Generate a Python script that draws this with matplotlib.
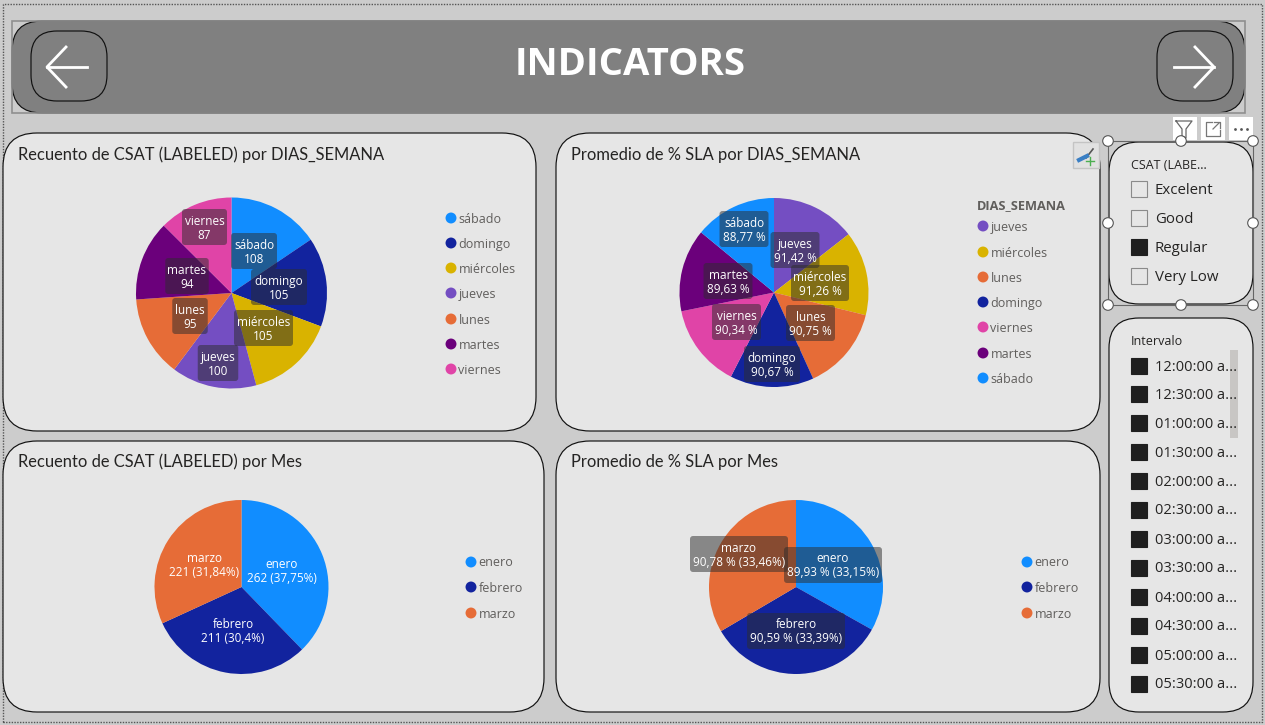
import matplotlib
matplotlib.use("Agg")
import matplotlib.pyplot as plt
from matplotlib.patches import Circle, FancyBboxPatch, Rectangle

W, H = 1265, 725

BLUE = "#118dff"
NAVY = "#12239e"
ORANGE = "#e66c37"
PURPLE = "#744ec2"
YELLOW = "#d9b300"
MAGENTA = "#e044a7"
VIOLET = "#6b007b"
DAY_COLORS = {"sábado": BLUE, "domingo": NAVY, "miércoles": YELLOW, "jueves": PURPLE,
              "lunes": ORANGE, "martes": VIOLET, "viernes": MAGENTA}
MONTH_COLORS = {"enero": BLUE, "febrero": NAVY, "marzo": ORANGE}

# data
days_count = ["sábado", "domingo", "miércoles", "jueves", "lunes", "martes", "viernes"]
csat_by_day = [108, 105, 105, 100, 95, 94, 87]
days_sla = ["jueves", "miércoles", "lunes", "domingo", "viernes", "martes", "sábado"]
sla_by_day = [91.42, 91.26, 90.75, 90.67, 90.34, 89.63, 88.77]
sla_day_labels = ["91,42 %", "91,26 %", "90,75 %", "90,67 %", "90,34 %", "89,63 %", "88,77 %"]
months = ["enero", "febrero", "marzo"]
csat_by_month = [262, 211, 221]
csat_month_labels = ["262 (37,75%)", "211 (30,4%)", "221 (31,84%)"]
sla_by_month = [89.93, 90.59, 90.78]
sla_month_labels = ["89,93 % (33,15%)", "90,59 % (33,39%)", "90,78 % (33,46%)"]
csat_options = ["Excelent", "Good", "Regular", "Very Low"]
csat_checked = [False, False, True, False]
intervals = ["12:00:00 a...", "12:30:00 a...", "01:00:00 a...", "01:30:00 a...",
             "02:00:00 a...", "02:30:00 a...", "03:00:00 a...", "03:30:00 a...",
             "04:00:00 a...", "04:30:00 a...", "05:00:00 a...", "05:30:00 a..."]

# label box centres and widths in pixels, same order as the slices
pos_day_count = [(254, 251), (279, 287), (263.5, 328), (218, 363), (190, 316), (187, 276), (204.5, 227)]
box_day_count = [46, 56, 59, 40.5, 35.5, 43.5, 45]
pos_day_sla = [(795, 250), (820, 283), (810.5, 323), (772, 364), (736.5, 322), (728, 281), (744, 229)]
box_day_sla = [49, 58, 49, 56, 49, 49, 49]
pos_month_count = [(282, 571), (233, 630), (204, 564)]
pos_month_sla = [(833, 565), (796, 631), (739, 554)]

FONT = "Open Sans"
TITLE_FONT = "Lato"
TEXT_DY = 1  # Open Sans sits a pixel high with va=center

fig = plt.figure(figsize=(W / 100, H / 100), dpi=100, facecolor="#cccccc")
ax = fig.add_axes([0, 0, 1, 1])


def card(x0, y0, x1, y1, radius=34, face="#e6e6e6", z=1, lw=0.85):
    ax.add_patch(FancyBboxPatch((x0 + radius, y0 + radius), x1 - x0 - 2 * radius, y1 - y0 - 2 * radius,
                                boxstyle=f"round,pad={radius},rounding_size={radius}",
                                fc=face, ec="#111111", lw=lw, zorder=z))


def pie(values, colors, cx, cy, r):
    # y axis is flipped, so this runs clockwise from 12 o'clock on screen
    wedges, _ = ax.pie(values, colors=colors, center=(cx, cy), radius=r, startangle=-90,
                       counterclock=True, wedgeprops=dict(lw=0, zorder=3))
    return wedges


def data_label(x, y, name, value, w, boxed=True):
    if boxed:
        ax.add_patch(FancyBboxPatch((x - w / 2 + 3, y - 15), w - 6, 30,
                                    boxstyle="round,pad=3,rounding_size=3",
                                    fc="#2d2d2d", ec="none", alpha=0.51, zorder=4))
    ax.text(x, y - 7 + TEXT_DY, name, color="white", fontsize=8.45, family=FONT,
            ha="center", va="center", zorder=5)
    ax.text(x, y + 7 + TEXT_DY, value, color="white", fontsize=8.45, family=FONT,
            ha="center", va="center", zorder=5)


def legend(names, colors, dot_x, ys):
    ax.scatter([dot_x] * len(names), ys, s=62, c=[colors[n] for n in names], lw=0, zorder=3)
    for n, y in zip(names, ys):
        ax.text(dot_x + 7.5, y + TEXT_DY, n, color="#605e5c", fontsize=9, family=FONT, va="center", zorder=3)


# header
card(12, 21, 1245, 113, radius=30, face="#808080")
ax.add_patch(Rectangle((12, 21), 1233, 92, fc="none", ec="#8f8f8f", lw=1.2, zorder=2))
card(31, 31, 107, 101, radius=26, face="#808080", z=2)
card(1157, 31, 1233, 101, radius=26, face="#808080", z=2)
ax.plot([87, 47], [67, 67], color="white", lw=2, zorder=3)
ax.plot([66, 47, 66], [47, 67, 87], color="white", lw=2, zorder=3)
ax.plot([1174, 1214], [67, 67], color="white", lw=2, zorder=3)
ax.plot([1195, 1214, 1195], [47, 67, 87], color="white", lw=2, zorder=3)
ax.text(630, 65, "INDICATORS", color="white", fontsize=27.5, fontweight="bold", family=FONT,
        ha="center", va="center", zorder=3)

# canvas dotted border
ax.plot([3, 3, 1262, 1262, 3], [722, 4, 4, 722, 722], color="#555555", lw=1, ls=(0, (1, 1)), zorder=0.5)

# cards
card(3, 133, 536, 431)
card(556, 133, 1100, 431)
card(3, 441, 544, 712)
card(556, 441, 1100, 712)

for x, y, t in [(18, 154.5, "Recuento de CSAT (LABELED) por DIAS_SEMANA"),
                (571, 154.5, "Promedio de % SLA por DIAS_SEMANA"),
                (18, 461.5, "Recuento de CSAT (LABELED) por Mes"),
                (571, 461.5, "Promedio de % SLA por Mes")]:
    ax.text(x, y, t, color="#252423", fontsize=11.9, family=TITLE_FONT, va="center", zorder=3)

# pies
pie(csat_by_day, [DAY_COLORS[d] for d in days_count], 231.5, 293, 95.5)
for d, v, (x, y), w in zip(days_count, csat_by_day, pos_day_count, box_day_count):
    data_label(x, y, d, str(v), w)

pie(sla_by_day, [DAY_COLORS[d] for d in days_sla], 774, 292.5, 94.5)
for d, v, (x, y), w in zip(days_sla, sla_day_labels, pos_day_sla, box_day_sla):
    data_label(x, y, d, v, w)

pie(csat_by_month, [MONTH_COLORS[m] for m in months], 241.5, 587, 87)
for m, v, (x, y) in zip(months, csat_month_labels, pos_month_count):
    data_label(x, y, m, v, 80, boxed=False)

pie(sla_by_month, [MONTH_COLORS[m] for m in months], 796, 587, 87)
for m, v, (x, y) in zip(months, sla_month_labels, pos_month_sla):
    data_label(x, y, m, v, 98)

# legends
legend(days_count, DAY_COLORS, 451, [218, 243, 268, 293, 319, 344, 369])
legend(days_sla, DAY_COLORS, 983, [226, 252, 277, 302, 327, 353, 378])
ax.text(977, 205 + TEXT_DY, "DIAS_SEMANA", color="#605e5c", fontsize=9.2, fontweight="bold", family=FONT,
        va="center", zorder=3)
legend(months, MONTH_COLORS, 471, [562, 587, 613])
legend(months, MONTH_COLORS, 1027, [562, 587, 613])

# CSAT slicer
card(1109, 142, 1253, 304, radius=30)
ax.add_patch(Rectangle((1108, 141), 145, 164, fc="none", ec="#666666", lw=0.8, zorder=2))
ax.text(1131, 164 + TEXT_DY, "CSAT (LABE...", color="#252423", fontsize=9, family=FONT, va="center", zorder=3)
for opt, on, y in zip(csat_options, csat_checked, [189, 218, 247, 276]):
    ax.add_patch(Rectangle((1131, y - 8), 16, 16, fc="#1f1f1f" if on else "none",
                           ec="#1f1f1f" if on else "#8a8a8a", lw=0.8, zorder=3))
    ax.text(1155, y + TEXT_DY, opt, color="#252423", fontsize=10.8, family=FONT, va="center", zorder=3)
for x, y in [(1108, 141), (1181, 141), (1253, 141), (1108, 223), (1253, 223),
             (1108, 305), (1181, 305), (1253, 305)]:
    ax.add_patch(Circle((x, y), 5.3, fc="white", ec="#555555", lw=0.8, zorder=4))

# Intervalo slicer
card(1109, 318, 1253, 712, radius=30)
ax.text(1131, 340 + TEXT_DY, "Intervalo", color="#252423", fontsize=9, family=FONT, va="center", zorder=3)
ax.add_patch(Rectangle((1230, 350), 8, 88, fc="#c8c6c4", ec="none", zorder=2))
for t, y in zip(intervals, [366, 394, 423, 452, 481, 510, 539, 568, 597, 626, 655, 684]):
    ax.add_patch(Rectangle((1131, y - 8), 16, 16, fc="#1f1f1f", ec="#1f1f1f", lw=0.8, zorder=3))
    ax.text(1155, y + TEXT_DY, t, color="#252423", fontsize=10.5, family=FONT, va="center", zorder=3)

# visual header icons
for x0 in [1173, 1201, 1229]:
    ax.add_patch(Rectangle((x0, 117), 24, 23, fc="white", ec="none", zorder=2))
ax.plot([1176, 1192, 1186, 1186, 1182, 1182, 1176], [121, 121, 129, 138, 136, 129, 121],
        color="#666666", lw=0.9, zorder=3)
ax.plot([1212, 1206, 1206, 1220, 1220], [122, 122, 136, 136, 130], color="#777777", lw=0.9, zorder=3)
ax.plot([1214, 1220, 1220], [122, 122, 128], color="#777777", lw=0.9, zorder=3)
ax.plot([1213, 1219], [129, 123], color="#777777", lw=0.9, zorder=3)
ax.scatter([1235, 1241, 1247], [128.5] * 3, s=4, c="#555555", lw=0, zorder=3)

# format painter button
ax.add_patch(Rectangle((1073, 142), 26, 26, fc="#e1e1e1", ec="#c4c4c4", lw=1, zorder=4))
ax.plot([1086, 1093], [158, 149], color="#555555", lw=1.2, zorder=5)
ax.plot([1079, 1087], [160, 156], color="#3a7fc4", lw=3, zorder=5)
ax.plot([1086, 1094], [161, 161], color="#4caf50", lw=1, zorder=5)
ax.plot([1090, 1090], [157, 165], color="#4caf50", lw=1, zorder=5)

ax.set_xlim(0, W)
ax.set_ylim(H, 0)
ax.set_aspect("equal")
ax.axis("off")

fig.savefig("out.png", dpi=100, facecolor=fig.get_facecolor())
